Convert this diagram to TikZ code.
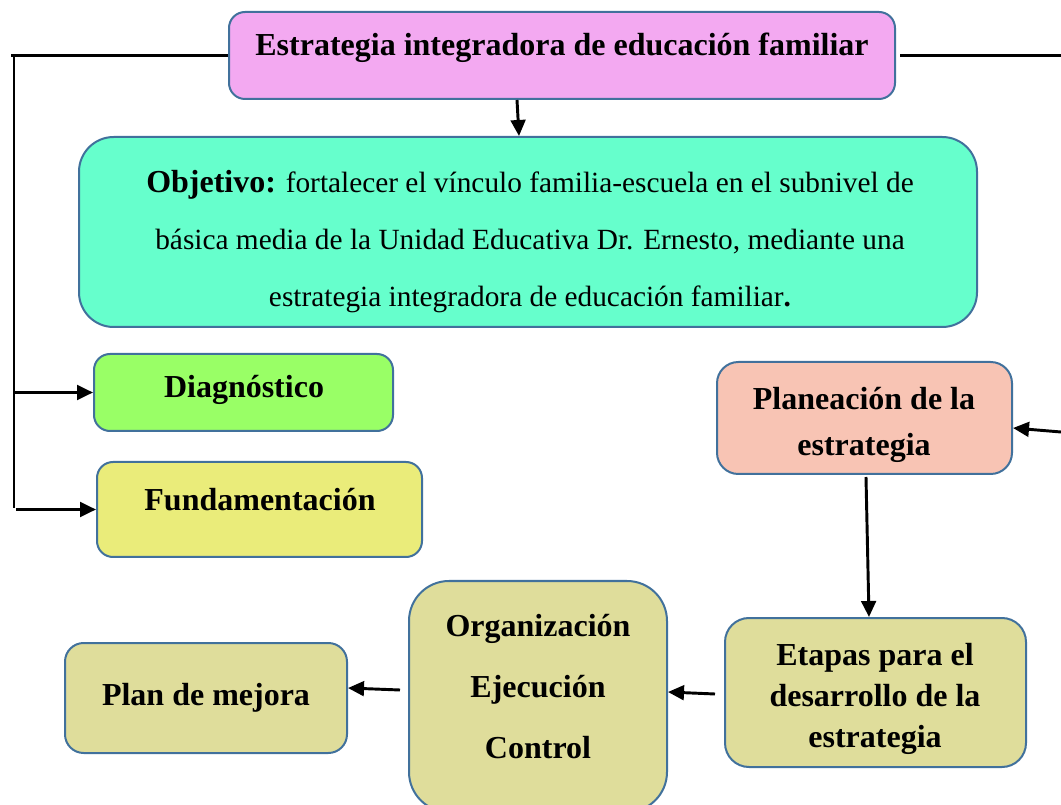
\documentclass[tikz,border=0pt]{standalone}
\usepackage{fontspec}
\setmainfont{Liberation Serif}
\usetikzlibrary{arrows.meta}

\definecolor{boxline}{HTML}{41719C}
\definecolor{cpink}{HTML}{F3A9F1}
\definecolor{cteal}{HTML}{66FFCC}
\definecolor{cgreen}{HTML}{99FF66}
\definecolor{cyellow}{HTML}{EAEC7A}
\definecolor{csalmon}{HTML}{F8C4B4}
\definecolor{colive}{HTML}{DFDD9B}

\tikzset{
  box/.style={draw=boxline, line width=1.5pt, rounded corners=12pt, inner sep=0pt},
  boxtext/.style={font=\fontsize{24}{30}\selectfont\bfseries, align=center, inner sep=0pt},
  line/.style={line width=2.2pt},
  arr/.style={line width=2.2pt, -{Triangle[length=12pt,width=11pt]}},
}

\begin{document}
\begin{tikzpicture}[x=0.75pt,y=0.75pt,yscale=-1,xscale=1]
\useasboundingbox (0,0) rectangle (1061,805);

%Shape: Rectangle [title]
\node[box, fill=cpink, minimum width=499.5pt, minimum height=65.25pt] (title) at (562,55.5) {};
%Shape: Rectangle [objetivo]
\node[box, fill=cteal, rounded corners=26pt, minimum width=673.5pt, minimum height=142.5pt] (objetivo) at (528,232) {};
%Shape: Rectangle [diagnostico]
\node[box, fill=cgreen, minimum width=224.25pt, minimum height=57.75pt] (diag) at (243.5,392.5) {};
%Shape: Rectangle [fundamentacion]
\node[box, fill=cyellow, minimum width=243.75pt, minimum height=71.25pt] (fund) at (259.5,509.5) {};
%Shape: Rectangle [planeacion]
\node[box, fill=csalmon, rounded corners=16pt, minimum width=221.25pt, minimum height=84pt] (plan) at (864.5,418) {};
%Shape: Rectangle [etapas]
\node[box, fill=colive, rounded corners=18pt, minimum width=225.75pt, minimum height=111.75pt] (etapas) at (875.5,692.5) {};
%Shape: Rectangle [organizacion]
\node[box, fill=colive, rounded corners=30pt, minimum width=193.5pt, minimum height=173.25pt] (oec) at (538,696.5) {};
%Shape: Rectangle [plan de mejora]
\node[box, fill=colive, rounded corners=14pt, minimum width=211.5pt, minimum height=82.5pt] (mejora) at (206,698) {};

% Text Node
\node[boxtext] (titletxt) at (562,48) {Estrategia integradora de educación familiar};
% Text Node
\node[boxtext, font=\fontsize{22}{42.75}\selectfont] (objtxt) at (530,242) {{\fontsize{24}{42.75}\selectfont\bfseries Objetivo:} fortalecer el vínculo familia-escuela en el subnivel de\\
básica media de la Unidad Educativa Dr. Ernesto, mediante una\\
estrategia integradora de educación familiar\textbf{.}};
% Text Node
\node[boxtext] (diagtxt) at (244,390) {Diagnóstico};
% Text Node
\node[boxtext] (fundtxt) at (260,500) {Fundamentación};
% Text Node
\node[boxtext, font=\fontsize{24}{34.5}\selectfont\bfseries] (plantxt) at (864,425) {Planeación de la\\ estrategia};
% Text Node
\node[boxtext, font=\fontsize{24}{30.75}\selectfont\bfseries] (etapastxt) at (875,699) {Etapas para el\\ desarrollo de la\\ estrategia};
% Text Node
\node[boxtext, font=\fontsize{24}{46}\selectfont\bfseries] (oectxt) at (538,686.5) {Organización\\ Ejecución\\ Control};
% Text Node
\node[boxtext] (mejoratxt) at (206,698) {Plan de mejora};

%Straight Lines [left branch]
\coordinate (lcorner) at (14,0 |- title.west);
\draw[line] (title.west) -- ([xshift=-2pt]lcorner);
\draw[line] (lcorner) -- (14,508);
\draw[arr] (14,0 |- diag.west) -- (diag.west);
\draw[arr] (16,0 |- fund.west) -- (fund.west);
%Straight Lines [right branch]
\coordinate (redge) at (1061,0 |- title.east);
\draw[line] ([xshift=3pt]title.east) -- (redge);
\draw[arr] (1061,432) -- (plan.east |- 0,428);
%Straight Lines [down and back]
\draw[arr] (517,0 |- title.south) -- (519,0 |- objetivo.north);
\draw[arr] (866,477) -- (869,0 |- etapas.north);
\draw[arr] (715,694) -- (oec.east |- 0,692);
\draw[arr] (400,690) -- (mejora.east |- 0,688);
\end{tikzpicture}
\end{document}
